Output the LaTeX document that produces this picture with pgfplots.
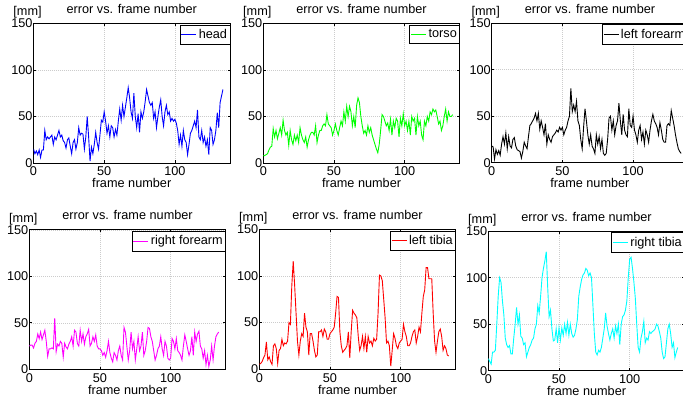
\documentclass[border=0pt]{standalone}
\usepackage{fontspec}
\setmainfont{Liberation Sans}
\usepackage{pgfplots}
\usepackage{pgfplotstable}
\pgfplotsset{compat=1.18}
\newcommand\myfont{\fontsize{12.7bp}{15bp}\selectfont}
\definecolor{mblue}{rgb}{0,0,1}
\definecolor{mgreen}{rgb}{0,1,0}
\definecolor{mmag}{rgb}{1,0,1}
\definecolor{mred}{rgb}{1,0,0}
\definecolor{mcyan}{rgb}{0,1,1}

\pgfplotstableread[row sep=\\]{y\\15\\10\\13\\9\\14\\6\\14\\14\\35\\25\\28\\26\\28\\30\\20\\28\\25\\30\\35\\28\\30\\24\\22\\16\\25\\27\\18\\10\\22\\25\\15\\22\\38\\30\\32\\31\\15\\28\\50\\28\\2\\17\\10\\20\\33\\22\\15\\30\\46\\44\\55\\45\\32\\40\\28\\40\\38\\28\\36\\30\\45\\58\\46\\62\\50\\60\\70\\81\\70\\55\\48\\75\\50\\38\\53\\33\\55\\48\\55\\66\\79\\72\\65\\62\\65\\48\\55\\38\\50\\60\\68\\50\\40\\55\\62\\52\\55\\45\\48\\45\\47\\43\\35\\20\\30\\18\\35\\25\\22\\9\\20\\32\\35\\40\\45\\38\\57\\28\\25\\35\\22\\28\\18\\25\\9\\38\\35\\20\\25\\35\\54\\38\\65\\72\\79\\}\head

\pgfplotstableread[row sep=\\]{y\\8\\8\\9\\10\\14\\17\\18\\37\\28\\35\\26\\32\\38\\30\\46\\35\\30\\33\\19\\35\\25\\20\\30\\24\\30\\22\\38\\30\\25\\22\\28\\17\\25\\30\\33\\33\\30\\40\\22\\30\\35\\35\\40\\42\\40\\52\\42\\40\\38\\30\\35\\42\\35\\30\\38\\45\\40\\55\\45\\61\\50\\61\\55\\40\\50\\38\\62\\70\\65\\50\\40\\32\\35\\30\\40\\33\\38\\30\\25\\20\\15\\11\\20\\35\\52\\50\\45\\40\\43\\35\\47\\30\\45\\38\\48\\45\\28\\48\\40\\53\\40\\45\\35\\45\\30\\50\\45\\48\\30\\50\\40\\45\\30\\25\\45\\40\\50\\45\\55\\52\\58\\55\\57\\50\\42\\45\\35\\40\\50\\58\\45\\55\\50\\50\\52\\}\torso

\pgfplotstableread[row sep=\\]{y\\18\\17\\4\\14\\9\\13\\8\\20\\28\\20\\32\\15\\28\\18\\16\\25\\27\\18\\14\\13\\12\\5\\12\\22\\18\\15\\28\\40\\42\\45\\48\\53\\45\\53\\36\\45\\38\\30\\42\\20\\30\\25\\22\\28\\30\\32\\35\\33\\38\\35\\38\\30\\35\\38\\45\\50\\80\\55\\62\\55\\66\\45\\40\\25\\15\\38\\58\\45\\30\\20\\30\\18\\15\\10\\30\\20\\28\\15\\25\\10\\8\\10\\25\\48\\50\\35\\45\\30\\40\\45\\64\\45\\30\\52\\35\\30\\28\\58\\40\\38\\50\\35\\30\\22\\35\\40\\25\\33\\20\\35\\30\\22\\35\\45\\52\\45\\42\\38\\30\\43\\35\\25\\22\\22\\40\\42\\40\\56\\48\\40\\30\\22\\15\\12\\10\\}\lfore

\pgfplotstableread[row sep=\\]{y\\25\\26\\26\\23\\28\\30\\38\\33\\40\\32\\37\\42\\30\\14\\22\\22\\23\\22\\55\\19\\27\\25\\30\\28\\13\\28\\24\\22\\27\\30\\35\\25\\42\\40\\28\\25\\42\\30\\38\\27\\35\\38\\43\\25\\28\\35\\30\\37\\25\\22\\22\\20\\15\\18\\13\\20\\30\\18\\12\\8\\18\\15\\10\\20\\25\\15\\10\\45\\40\\25\\10\\20\\40\\22\\30\\10\\22\\35\\20\\25\\40\\15\\20\\30\\45\\44\\35\\30\\20\\10\\15\\22\\25\\35\\22\\15\\30\\25\\12\\10\\12\\33\\30\\22\\33\\20\\18\\15\\10\\25\\37\\30\\22\\15\\20\\35\\15\\40\\30\\38\\41\\25\\22\\12\\20\\5\\15\\3\\10\\25\\10\\25\\35\\38\\40\\}\rfore

\pgfplotstableread[row sep=\\]{y\\5\\6\\8\\12\\15\\29\\10\\13\\8\\5\\25\\27\\22\\6\\20\\22\\32\\25\\28\\27\\30\\50\\48\\90\\116\\90\\60\\30\\15\\30\\38\\35\\60\\45\\40\\15\\38\\38\\30\\20\\13\\15\\40\\40\\42\\35\\43\\40\\32\\32\\38\\40\\42\\45\\60\\78\\77\\40\\25\\18\\20\\22\\25\\40\\12\\40\\63\\60\\58\\55\\35\\20\\25\\35\\22\\35\\18\\35\\28\\30\\25\\33\\30\\32\\60\\101\\100\\95\\75\\55\\28\\30\\25\\3\\20\\38\\33\\25\\22\\28\\30\\32\\48\\40\\35\\25\\25\\28\\35\\40\\42\\28\\35\\45\\40\\60\\78\\85\\109\\109\\97\\97\\97\\60\\30\\18\\30\\40\\43\\35\\20\\25\\22\\15\\14\\}\ltib

\pgfplotstableread[row sep=\\]{y\\13\\10\\7\\20\\20\\22\\50\\80\\100\\95\\75\\60\\35\\28\\25\\27\\18\\18\\35\\50\\68\\50\\60\\37\\35\\28\\30\\15\\20\\25\\28\\33\\35\\45\\50\\70\\62\\80\\100\\110\\118\\128\\90\\58\\65\\45\\32\\33\\45\\30\\46\\33\\46\\38\\50\\40\\52\\38\\50\\40\\36\\38\\45\\55\\80\\90\\98\\103\\105\\110\\108\\102\\105\\100\\70\\40\\20\\17\\22\\20\\25\\35\\45\\62\\48\\40\\33\\40\\45\\35\\48\\40\\50\\28\\50\\58\\60\\65\\75\\100\\120\\122\\110\\95\\78\\50\\25\\20\\35\\42\\53\\30\\35\\33\\42\\40\\42\\43\\45\\50\\48\\42\\35\\20\\13\\15\\30\\45\\50\\40\\25\\30\\14\\20\\25\\}\rtib

\pgfplotsset{
  legend image code/.code={\draw[#1, line width=0.9bp] (0bp,0bp) -- (15bp,0bp);},
  every axis title/.style={at={(0.5,1)}, anchor=base, yshift=10bp, inner sep=0pt},
  every axis x label/.style={at={(0.5,0)}, anchor=base, yshift=-25bp, inner sep=0pt},
  myax/.style={
    scale only axis, width=196.5bp, height=139.5bp, anchor=south west,
    font=\myfont,
    /pgf/number format/assume math mode=true,
    xmin=0, xmax=139, ymin=0, ymax=150,
    xtick={0,50,100}, ytick={0,50,100,150},
    tick align=inside, tick pos=both, major tick length=2.5bp,
    every tick/.style={black, line width=0.6bp},
    axis line style={line width=0.7bp},
    grid=major, major grid style={line width=0.5bp, gray!40, dash pattern=on 1bp off 1bp},
    yticklabel style={anchor=east, inner sep=0pt, xshift=-0.8bp},
    xticklabel style={anchor=base, inner sep=0pt, yshift=-13bp},
    title={error vs. frame number},
    xlabel={frame number},
    legend style={at={(1,1)}, anchor=north east, yshift=-1.5bp, draw=black, line width=0.7bp, fill=white,
      inner xsep=1bp, inner ysep=2.5bp, outer sep=0pt, font=\myfont},
    legend cell align=left,
    after end axis/.code={\node[anchor=base, inner sep=0pt, font=\myfont] at (rel axis cs:0,1) [xshift=-6bp, yshift=7.6bp] {[mm]};},
  }
}

\begin{document}
\begin{tikzpicture}[font=\myfont]
\useasboundingbox (0,0) rectangle (683bp,397bp);
\clip (0,0) rectangle (683bp,397bp);

\begin{axis}[myax, at={(33.5bp,234bp)}]
\addplot[mblue, line width=0.9bp] table[x expr=\coordindex, y=y] {\head};
\addlegendentry{head}
\end{axis}

\begin{axis}[myax, at={(263.3bp,234bp)}]
\addplot[mgreen, line width=0.9bp] table[x expr=\coordindex, y=y] {\torso};
\addlegendentry{torso}
\end{axis}

\begin{axis}[myax, at={(491.7bp,234.3bp)}]
\addplot[black, line width=0.9bp] table[x expr=\coordindex, y=y] {\lfore};
\addlegendentry{left forearm}
\end{axis}

\begin{axis}[myax, at={(29.3bp,27.7bp)}]
\addplot[mmag, line width=0.9bp] table[x expr=\coordindex, y=y] {\rfore};
\addlegendentry{right forearm}
\end{axis}

\begin{axis}[myax, at={(259.3bp,28bp)}]
\addplot[mred, line width=0.9bp] table[x expr=\coordindex, y=y] {\ltib};
\addlegendentry{left tibia}
\end{axis}

\begin{axis}[myax, at={(488.3bp,26.3bp)}]
\addplot[mcyan, line width=0.9bp] table[x expr=\coordindex, y=y] {\rtib};
\addlegendentry{right tibia}
\end{axis}
\end{tikzpicture}
\end{document}
